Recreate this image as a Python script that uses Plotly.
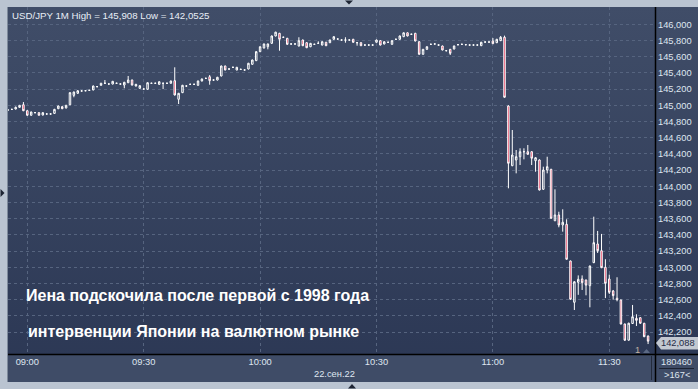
import base64
import pandas as pd
import plotly.graph_objects as go

W, H = 698, 389

# ---- data (USD/JPY 1-minute candles, 22 Sep 2022, 08:55 .. 11:39) ----
start_time = "2022-09-22 08:55"
opens = [
    144.942, 144.950, 144.954, 144.975, 145.007, 144.933, 144.877, 144.909, 144.909, 144.880,
    144.893, 144.893, 144.900, 144.958, 144.983, 144.967, 145.007, 145.123, 145.148, 145.177,
    145.180, 145.185, 145.190, 145.230, 145.247, 145.272, 145.263, 145.263, 145.272, 145.263,
    145.250, 145.279, 145.312, 145.238, 145.210, 145.201, 145.198, 145.272, 145.272, 145.259,
    145.272, 145.272, 145.272, 145.304, 145.074, 145.156, 145.238, 145.259, 145.259, 145.247,
    145.300, 145.333, 145.353, 145.312, 145.312, 145.362, 145.485, 145.448, 145.469, 145.436,
    145.444, 145.436, 145.448, 145.506, 145.551, 145.662, 145.707, 145.723, 145.765, 145.856,
    145.889, 145.840, 145.827, 145.757, 145.757, 145.732, 145.806, 145.773, 145.723, 145.753,
    145.765, 145.744, 145.778, 145.773, 145.815, 145.818, 145.806, 145.806, 145.806, 145.815,
    145.773, 145.773, 145.744, 145.744, 145.744, 145.778, 145.798, 145.757, 145.778, 145.753,
    145.815, 145.815, 145.847, 145.895, 145.877, 145.889, 145.785, 145.630, 145.691, 145.753,
    145.757, 145.744, 145.732, 145.674, 145.691, 145.695, 145.748, 145.753, 145.748, 145.744,
    145.744, 145.744, 145.736, 145.781, 145.781, 145.794, 145.773, 145.798, 145.840, 144.991,
    144.254, 144.325, 144.365, 144.427, 144.427, 144.427, 144.316, 144.325, 143.963, 144.201,
    144.210, 143.575, 143.646, 143.523, 143.531, 143.078, 142.568, 142.815, 142.856, 142.843,
    142.773, 143.057, 143.288, 143.205, 143.000, 142.856, 142.708, 142.618, 142.596, 142.300,
    142.100, 142.306, 142.370, 142.378, 142.309, 142.152,
]
highs = [
    144.948, 144.955, 144.985, 145.004, 145.040, 144.938, 144.922, 144.915, 144.914, 144.914,
    144.899, 144.899, 144.956, 144.996, 144.988, 145.005, 145.161, 145.169, 145.185, 145.183,
    145.186, 145.191, 145.243, 145.236, 145.277, 145.312, 145.269, 145.301, 145.278, 145.269,
    145.289, 145.362, 145.317, 145.264, 145.247, 145.207, 145.284, 145.278, 145.278, 145.296,
    145.278, 145.278, 145.305, 145.469, 145.153, 145.252, 145.244, 145.265, 145.265, 145.305,
    145.330, 145.339, 145.374, 145.318, 145.351, 145.490, 145.490, 145.454, 145.475, 145.474,
    145.450, 145.442, 145.524, 145.564, 145.667, 145.728, 145.762, 145.762, 145.861, 145.908,
    145.894, 145.846, 145.832, 145.763, 145.763, 145.840, 145.811, 145.778, 145.770, 145.759,
    145.790, 145.790, 145.783, 145.811, 145.852, 145.824, 145.812, 145.840, 145.812, 145.820,
    145.779, 145.778, 145.750, 145.750, 145.750, 145.811, 145.803, 145.790, 145.784, 145.803,
    145.821, 145.861, 145.900, 145.900, 145.883, 145.894, 145.790, 145.696, 145.728, 145.759,
    145.763, 145.750, 145.737, 145.680, 145.696, 145.737, 145.754, 145.759, 145.754, 145.750,
    145.750, 145.750, 145.783, 145.787, 145.787, 145.830, 145.820, 145.856, 145.860, 145.000,
    144.695, 144.448, 144.469, 144.469, 144.510, 144.432, 144.358, 144.333, 144.242, 144.365,
    144.215, 143.963, 143.686, 143.716, 143.593, 143.083, 142.827, 142.900, 142.900, 142.848,
    143.021, 143.625, 143.449, 143.412, 143.100, 142.910, 142.720, 142.877, 142.601, 142.305,
    142.315, 142.535, 142.420, 142.383, 142.314, 142.157,
]
lows = [
    144.936, 144.944, 144.950, 144.970, 144.928, 144.870, 144.872, 144.903, 144.872, 144.875,
    144.887, 144.887, 144.895, 144.953, 144.953, 144.962, 145.002, 145.099, 145.143, 145.171,
    145.174, 145.179, 145.185, 145.224, 145.242, 145.266, 145.257, 145.258, 145.266, 145.257,
    145.210, 145.274, 145.245, 145.233, 145.205, 145.195, 145.193, 145.266, 145.266, 145.254,
    145.200, 145.266, 145.267, 145.122, 145.016, 145.151, 145.232, 145.253, 145.253, 145.242,
    145.295, 145.327, 145.254, 145.306, 145.307, 145.357, 145.431, 145.442, 145.463, 145.431,
    145.438, 145.430, 145.443, 145.501, 145.546, 145.657, 145.702, 145.691, 145.760, 145.851,
    145.674, 145.834, 145.748, 145.751, 145.751, 145.727, 145.731, 145.706, 145.718, 145.747,
    145.759, 145.739, 145.731, 145.768, 145.810, 145.812, 145.800, 145.773, 145.800, 145.773,
    145.736, 145.731, 145.738, 145.738, 145.738, 145.773, 145.739, 145.752, 145.772, 145.748,
    145.809, 145.810, 145.842, 145.851, 145.871, 145.789, 145.625, 145.625, 145.686, 145.747,
    145.751, 145.738, 145.678, 145.668, 145.621, 145.690, 145.742, 145.747, 145.742, 145.738,
    145.738, 145.738, 145.731, 145.775, 145.775, 145.756, 145.768, 145.793, 145.094, 143.975,
    144.249, 144.160, 144.263, 144.333, 144.390, 144.263, 144.180, 143.949, 143.958, 144.160,
    143.600, 143.570, 143.494, 143.440, 143.094, 142.600, 142.473, 142.660, 142.720, 142.654,
    142.506, 143.052, 143.177, 142.990, 142.620, 142.670, 142.600, 142.580, 142.295, 142.090,
    142.095, 142.300, 142.275, 142.304, 142.138, 142.0525,
]
closes = [
    144.942, 144.950, 144.975, 145.000, 144.933, 144.877, 144.917, 144.909, 144.877, 144.909,
    144.893, 144.893, 144.950, 144.991, 144.958, 145.000, 145.156, 145.164, 145.180, 145.177,
    145.180, 145.185, 145.238, 145.230, 145.272, 145.272, 145.263, 145.296, 145.272, 145.263,
    145.284, 145.312, 145.250, 145.259, 145.242, 145.201, 145.279, 145.272, 145.272, 145.291,
    145.272, 145.272, 145.300, 145.127, 145.148, 145.247, 145.238, 145.259, 145.259, 145.300,
    145.325, 145.333, 145.304, 145.312, 145.346, 145.485, 145.436, 145.448, 145.469, 145.469,
    145.444, 145.436, 145.519, 145.559, 145.662, 145.723, 145.757, 145.757, 145.856, 145.903,
    145.815, 145.840, 145.753, 145.757, 145.757, 145.798, 145.736, 145.711, 145.765, 145.753,
    145.765, 145.785, 145.736, 145.806, 145.847, 145.818, 145.806, 145.806, 145.806, 145.778,
    145.773, 145.736, 145.744, 145.744, 145.744, 145.806, 145.744, 145.785, 145.778, 145.798,
    145.815, 145.856, 145.895, 145.856, 145.877, 145.794, 145.630, 145.691, 145.723, 145.753,
    145.757, 145.744, 145.683, 145.674, 145.642, 145.732, 145.748, 145.753, 145.748, 145.744,
    145.744, 145.744, 145.778, 145.781, 145.781, 145.761, 145.815, 145.840, 145.099, 144.284,
    144.386, 144.365, 144.427, 144.427, 144.395, 144.346, 144.353, 143.954, 144.201, 144.242,
    143.605, 143.646, 143.522, 143.556, 143.099, 142.605, 142.822, 142.852, 142.810, 142.780,
    143.016, 143.304, 143.205, 142.995, 142.802, 142.691, 142.650, 142.600, 142.300, 142.100,
    142.310, 142.390, 142.345, 142.309, 142.143, 142.088,
]
times = pd.date_range(start_time, periods=len(closes), freq="min")

x_tick_vals = ["2022-09-22 09:00", "2022-09-22 09:30", "2022-09-22 10:00",
               "2022-09-22 10:30", "2022-09-22 11:00", "2022-09-22 11:30"]
x_tick_text = ["09:00", "09:30", "10:00", "10:30", "11:00", "11:30"]
y_tick_vals = [142.2, 142.4, 142.6, 142.8, 143.0, 143.2, 143.4, 143.6, 143.8,
               144.0, 144.2, 144.4, 144.6, 144.8, 145.0, 145.2, 145.4, 145.6, 145.8, 146.0]
y_tick_text = ["142,200", "142,400", "142,600", "142,800", "143,000", "143,200", "143,400",
               "143,600", "143,800", "144,000", "144,200", "144,400", "144,600", "144,800",
               "145,000", "145,200", "145,400", "145,600", "145,800", "146,000"]
header_text = "USD/JPY 1M High = 145,908 Low = 142,0525"
caption_1 = "Иена подскочила после первой с 1998 года"
caption_2 = "интервенции Японии на валютном рынке"
date_label = "22.сен.22"
last_price_label = "142,088"
volume_label = "180460"
count_label = ">167<"

# ---- geometry helpers (pixel -> paper) ----
def px(x):
    return x / W

def py(y):
    return 1 - y / H

FONT = "Liberation Sans, Arial, sans-serif"

fig = go.Figure()
fig.add_trace(go.Candlestick(
    x=times, open=opens, high=highs, low=lows, close=closes,
    increasing=dict(line=dict(color="#ffffff", width=1), fillcolor="rgba(0,0,0,0)"),
    decreasing=dict(line=dict(color="#ffffff", width=1), fillcolor="#e3163f"),
    whiskerwidth=0, showlegend=False, hoverinfo="skip",
))

# gradient background (svg data uri)
svg = ('<svg xmlns="http://www.w3.org/2000/svg" width="100" height="100" viewBox="0 0 100 100" '
       'preserveAspectRatio="none"><defs><linearGradient id="g" x1="0" y1="0" x2="0" y2="1">'
       '<stop offset="0" stop-color="#404d68"/><stop offset="1" stop-color="#2b3754"/>'
       '</linearGradient></defs><rect width="100" height="100" fill="url(#g)"/></svg>')
svg_uri = "data:image/svg+xml;base64," + base64.b64encode(svg.encode()).decode()

shapes = [
    # x-axis strip
    dict(type="rect", xref="paper", yref="paper", x0=px(8), x1=px(698), y0=py(382), y1=py(354),
         fillcolor="#3f4c67", line=dict(width=0), layer="below"),
    # borders
    dict(type="line", xref="paper", yref="paper", x0=px(8), x1=px(698), y0=py(354.5), y1=py(354.5),
         line=dict(color="#000000", width=1.5), layer="above"),
    dict(type="line", xref="paper", yref="paper", x0=px(655.5), x1=px(655.5), y0=py(7), y1=py(382),
         line=dict(color="#000000", width=1.5), layer="above"),
    dict(type="line", xref="paper", yref="paper", x0=px(7.5), x1=px(7.5), y0=py(7), y1=py(382),
         line=dict(color="#7f8b9c", width=1), layer="above"),
    dict(type="line", xref="paper", yref="paper", x0=px(651.5), x1=px(651.5), y0=py(356), y1=py(380),
         line=dict(color="#232b3b", width=1), layer="above"),
    dict(type="line", xref="paper", yref="paper", x0=px(659), x1=px(694), y0=py(368.5), y1=py(368.5),
         line=dict(color="#1c2333", width=1), layer="above"),
    # last price tag
    dict(type="path", xref="paper", yref="paper",
         path=f"M {px(656)} {py(343)} L {px(661)} {py(337)} L {px(698)} {py(337)} "
              f"L {px(698)} {py(349.5)} L {px(661)} {py(349.5)} Z",
         fillcolor="#c2c8d1", line=dict(width=0), layer="above"),
    # small marker triangle
    dict(type="path", xref="paper", yref="paper",
         path=f"M {px(643)} {py(353)} L {px(650)} {py(353)} L {px(646.5)} {py(349)} Z",
         fillcolor="#5b6984", line=dict(width=0), layer="above"),
    # frame triangles
    dict(type="path", xref="paper", yref="paper",
         path=f"M {px(345)} {py(0.5)} L {px(353)} {py(0.5)} L {px(349)} {py(4.5)} Z",
         fillcolor="#1d2433", line=dict(width=0), layer="above"),
    dict(type="path", xref="paper", yref="paper",
         path=f"M {px(0.5)} {py(189)} L {px(0.5)} {py(197)} L {px(4.5)} {py(193)} Z",
         fillcolor="#1d2433", line=dict(width=0), layer="above"),
    dict(type="path", xref="paper", yref="paper",
         path=f"M {px(348)} {py(388.5)} L {px(356)} {py(388.5)} L {px(352)} {py(384)} Z",
         fillcolor="#1d2433", line=dict(width=0), layer="above"),
]

annotations = [
    dict(x=px(10), y=py(15.5), xref="paper", yref="paper", xanchor="left", yanchor="middle",
         text=header_text, showarrow=False, font=dict(family=FONT, size=9.7, color="#e8eef6")),
    dict(x=px(24), y=py(295), xref="paper", yref="paper", xanchor="left", yanchor="middle",
         text=f"<b>{caption_1}</b>", showarrow=False, font=dict(family=FONT, size=16, color="#ffffff")),
    dict(x=px(26), y=py(331), xref="paper", yref="paper", xanchor="left", yanchor="middle",
         text=f"<b>{caption_2}</b>", showarrow=False, font=dict(family=FONT, size=16, color="#ffffff")),
    dict(x=px(334), y=py(373.5), xref="paper", yref="paper", xanchor="center", yanchor="middle",
         text=date_label, showarrow=False, font=dict(family=FONT, size=9.3, color="#dfe6f0")),
    dict(x=px(676.5), y=py(362), xref="paper", yref="paper", xanchor="center", yanchor="middle",
         text=volume_label, showarrow=False, font=dict(family=FONT, size=9.3, color="#dfe6f0")),
    dict(x=px(676.5), y=py(374.5), xref="paper", yref="paper", xanchor="center", yanchor="middle",
         text=count_label, showarrow=False, font=dict(family=FONT, size=9.3, color="#dfe6f0")),
    dict(x=px(677.5), y=py(343.3), xref="paper", yref="paper", xanchor="center", yanchor="middle",
         text=last_price_label, showarrow=False, font=dict(family=FONT, size=9.3, color="#1f2b45")),
    dict(x=px(637.5), y=py(349.5), xref="paper", yref="paper", xanchor="center", yanchor="middle",
         text="1", showarrow=False, font=dict(family=FONT, size=9.3, color="#c4b4a4")),
]

fig.update_layout(
    width=W, height=H,
    margin=dict(l=0, r=0, t=0, b=0),
    paper_bgcolor="#bac4d1",
    plot_bgcolor="rgba(0,0,0,0)",
    boxgap=0.45,
    images=[dict(source=svg_uri, xref="paper", yref="paper", x=px(8), y=py(7),
                 sizex=px(690), sizey=375 / H, sizing="stretch", layer="below",
                 xanchor="left", yanchor="top")],
    shapes=shapes,
    annotations=annotations,
    xaxis=dict(
        domain=[px(8), px(655)],
        type="date",
        range=["2022-09-22 08:55:01.5", "2022-09-22 11:41:47"],
        rangeslider=dict(visible=False),
        tickvals=x_tick_vals, ticktext=x_tick_text,
        tickfont=dict(family=FONT, size=9.3, color="#dfe6f0"),
        showgrid=True, gridcolor="#56647f", griddash="3px,3px", gridwidth=1,
        zeroline=False, showline=False, ticks="", ticklabelstandoff=1,
        fixedrange=True,
    ),
    yaxis=dict(
        domain=[1 - 354 / H, 1 - 7 / H],
        side="right",
        range=[141.9296, 146.2136],
        tickvals=y_tick_vals, ticktext=y_tick_text,
        tickfont=dict(family=FONT, size=9.3, color="#dfe6f0"),
        showgrid=True, gridcolor="#56647f", griddash="3px,3px", gridwidth=1,
        zeroline=False, showline=False, ticks="", ticklabelstandoff=2,
        fixedrange=True,
    ),
)

fig.write_html("out.html")
